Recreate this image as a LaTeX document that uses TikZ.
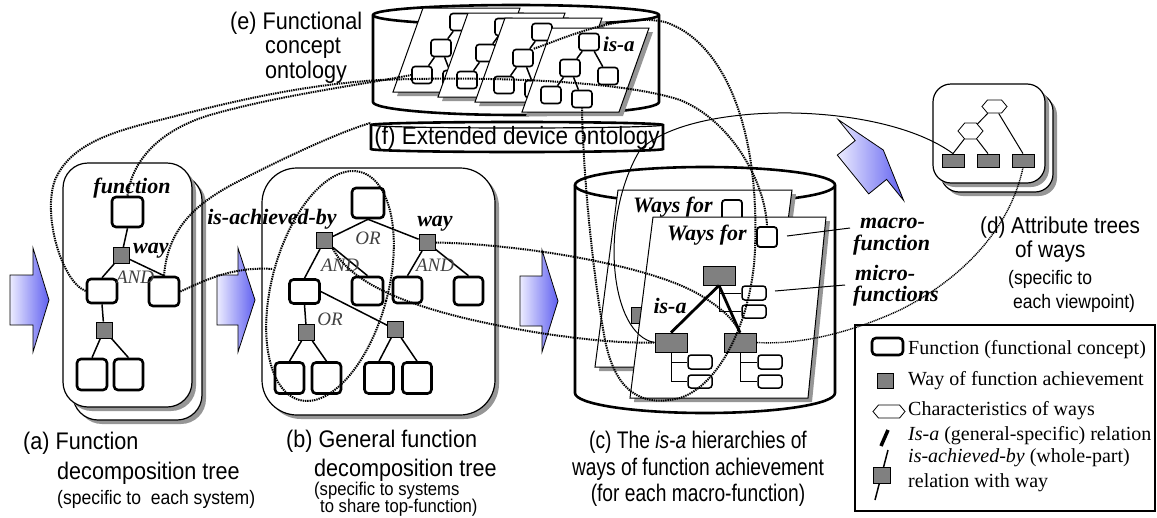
\documentclass[tikz,border=0pt]{standalone}
\usepackage{fontspec}
\setmainfont{Liberation Serif}
\newfontfamily\capfont[FakeStretch=0.9]{Liberation Sans}
\newfontfamily\capnarrow[FakeStretch=0.8]{Liberation Sans}
\usetikzlibrary{shapes.symbols,shadows}

\definecolor{waygray}{RGB}{128,128,128}
\definecolor{shadowgray}{RGB}{150,150,150}
\definecolor{arrowlight}{RGB}{236,236,255}
\definecolor{arrowblue}{RGB}{96,96,240}

\begin{document}
\begin{tikzpicture}[
    x=1pt, y=-1pt,
    func/.style={draw, fill=white, rounded corners=4pt, line width=2.6pt, minimum width=30pt, minimum height=28pt, inner sep=0pt},
    way/.style={draw, fill=waygray, line width=0.8pt, minimum width=16pt, minimum height=16pt, inner sep=0pt},
    branch/.style={line width=1.5pt},
    panel/.style={draw, fill=white, line width=1.2pt, inner sep=0pt},
    shadowed/.style={drop shadow={shadow xshift=4pt, shadow yshift=-4pt, fill=shadowgray, opacity=1}},
    cyl/.style={draw, fill=white, line width=2.6pt},
    sheet/.style={draw, fill=white, line width=1pt, shadowed},
    pagesq/.style={draw, fill=white, rounded corners=3pt, line width=1.6pt, minimum width=20pt, minimum height=17pt, inner sep=0pt},
    smallsq/.style={draw, fill=white, rounded corners=3pt, line width=1.5pt, minimum width=24pt, minimum height=14pt, inner sep=0pt},
    hexa/.style={signal, signal to=east and west, signal pointer angle=100, draw, fill=white, line width=0.8pt, minimum width=25pt, minimum height=14pt, inner sep=0pt},
    emlabel/.style={font=\fontsize{22}{24}\selectfont\bfseries\itshape, inner sep=0pt},
    gatelabel/.style={font=\fontsize{19}{21}\selectfont\itshape, text=black!75, inner sep=0pt, anchor=base},
    captext/.style={font=\capfont\fontsize{24}{26}\selectfont, inner sep=0pt, anchor=base west},
    capsmall/.style={font=\capfont\fontsize{19.5}{22}\selectfont, inner sep=0pt, anchor=base west},
    capc/.style={font=\capnarrow\fontsize{24}{26}\selectfont, inner sep=0pt, anchor=base},
    legtext/.style={font=\fontsize{20}{22}\selectfont, inner sep=0pt, anchor=base west},
    bigarrow/.style={draw, line width=0.8pt, left color=arrowlight, right color=arrowblue},
    dotline/.style={line width=2pt, dash pattern=on 1.4pt off 0.9pt},
    dotthin/.style={line width=1.4pt, dash pattern=on 1.1pt off 0.8pt},
    thinline/.style={line width=1pt}
]
\useasboundingbox (0,0) rectangle (1157,517);

% (e) Functional concept ontology
\filldraw[cyl] (373,15) -- (373,102) arc[start angle=180, end angle=360, x radius=143pt, y radius=13pt] -- (659,15) arc[start angle=0, end angle=180, x radius=143pt, y radius=10pt] -- cycle;
\draw[cyl] (659,15) arc[start angle=0, end angle=-180, x radius=143pt, y radius=10pt];

\filldraw[sheet] (423,8) -- ++(97,0) -- ++(-30,84) -- ++(-97,0) -- cycle;
\node[pagesq] (p1a) at (460,22) {};
\node[pagesq] (p1b) at (441,48) {};
\node[pagesq] (p1c) at (479,56) {};
\node[pagesq] (p1d) at (422,75) {};
\node[pagesq] (p1e) at (453,79) {};
\draw[branch] (p1a) -- (p1b);
\draw[branch] (p1a) -- (p1c);
\draw[branch] (p1b) -- (p1d);
\draw[branch] (p1b) -- (p1e);

\filldraw[sheet] (468,13) -- ++(97,0) -- ++(-30,84) -- ++(-97,0) -- cycle;
\node[pagesq] (p2a) at (505,27) {};
\node[pagesq] (p2b) at (486,53) {};
\node[pagesq] (p2c) at (524,61) {};
\node[pagesq] (p2d) at (467,80) {};
\node[pagesq] (p2e) at (498,84) {};
\draw[branch] (p2a) -- (p2b);
\draw[branch] (p2a) -- (p2c);
\draw[branch] (p2b) -- (p2d);
\draw[branch] (p2b) -- (p2e);

\filldraw[sheet] (505,18) -- ++(97,0) -- ++(-30,84) -- ++(-97,0) -- cycle;
\node[pagesq] (p3a) at (542,32) {};
\node[pagesq] (p3b) at (523,58) {};
\node[pagesq] (p3c) at (561,66) {};
\node[pagesq] (p3d) at (504,85) {};
\node[pagesq] (p3e) at (535,89) {};
\draw[branch] (p3a) -- (p3b);
\draw[branch] (p3a) -- (p3c);
\draw[branch] (p3b) -- (p3d);
\draw[branch] (p3b) -- (p3e);

\filldraw[sheet] (552,28) -- ++(97,0) -- ++(-30,84) -- ++(-97,0) -- cycle;
\node[pagesq] (p4a) at (589,42) {};
\node[pagesq] (p4b) at (570,68) {};
\node[pagesq] (p4c) at (608,76) {};
\node[pagesq] (p4d) at (551,95) {};
\node[pagesq] (p4e) at (582,99) {};
\draw[branch] (p4a) -- (p4b);
\draw[branch] (p4a) -- (p4c);
\draw[branch] (p4b) -- (p4d);
\draw[branch] (p4b) -- (p4e);
\node[emlabel, font=\fontsize{21}{23}\selectfont\bfseries\itshape, anchor=base west] (isae) at (603,51) {is-a};

% (f) Extended device ontology
\filldraw[cyl] (371,125) -- (371,149) arc[start angle=180, end angle=360, x radius=146pt, y radius=3pt] -- (663,125) arc[start angle=0, end angle=180, x radius=146pt, y radius=3pt] -- cycle;
\draw[line width=1.2pt] (663,125) arc[start angle=0, end angle=-180, x radius=146pt, y radius=3pt];
\node[font=\capfont\fontsize{25}{27}\selectfont, inner sep=0pt, minimum width=292pt, minimum height=30pt] (fbox) at (517,138) {(f) Extended device ontology};

% (a) Function decomposition tree
\node[panel, rounded corners=25pt, shadowed, minimum width=129pt, minimum height=245pt] (boxaback) at (137.5,297.5) {};
\node[panel, rounded corners=25pt, shadowed, minimum width=129pt, minimum height=244pt] (boxa) at (127.5,285) {};
\node[func, minimum width=31pt, minimum height=30pt] (a1) at (127.5,212) {};
\node[way] (aw1) at (121.5,255.5) {};
\node[func, minimum height=24pt] (a2) at (102,291) {};
\node[func, minimum height=29pt] (a3) at (164,291.5) {};
\node[way] (aw2) at (104,330) {};
\node[func, minimum height=31pt] (a4) at (92,374.5) {};
\node[func, minimum width=29pt, minimum height=31pt] (a5) at (128.5,374.5) {};
\draw[branch] (a1.south) -- (aw1);
\draw[branch] (aw1) -- (a2.north);
\draw[branch] (aw1) -- (a3.north);
\draw[branch] (a2.south) -- (aw2);
\draw[branch] (aw2) -- (a4.north);
\draw[branch] (aw2) -- (a5.north);
\node[emlabel, anchor=base] (lfunc) at (132,193) {function};
\node[emlabel, anchor=base west] (lwaya) at (133,253) {way};
\node[gatelabel] (landa) at (135,283) {AND};

% (b) General function decomposition tree
\node[panel, rounded corners=35pt, shadowed, minimum width=233pt, minimum height=247pt] (boxb) at (378.5,291.5) {};
\node[func, minimum width=32pt, minimum height=30pt] (b1) at (368,203) {};
\node[way] (bw1) at (324.5,240.5) {};
\node[way] (bw2) at (427,242.5) {};
\node[func, minimum height=24pt] (b2) at (304.5,291.5) {};
\node[func, minimum width=31pt] (b3) at (367.5,291) {};
\node[func, minimum width=29pt, minimum height=26pt] (b4) at (407.5,290) {};
\node[func, minimum width=29pt] (b5) at (468.5,291) {};
\node[way] (bw3) at (306.5,332.5) {};
\node[way] (bw4) at (395.5,329.5) {};
\node[func, minimum width=29pt, minimum height=31pt] (b6) at (289.5,378) {};
\node[func, minimum width=29pt, minimum height=31pt] (b7) at (326.5,378) {};
\node[func, minimum width=29pt, minimum height=31pt] (b8) at (379,378) {};
\node[func, minimum width=29pt, minimum height=31pt] (b9) at (417,378) {};
\draw[branch] (b1.south) -- (bw1);
\draw[branch] (b1.south) -- (bw2);
\draw[branch] (bw1) -- (b2.north);
\draw[branch] (bw1) -- (b3.north);
\draw[branch] (bw2) -- (b4.north);
\draw[branch] (bw2) -- (b5.north);
\draw[branch] (b2.south) -- (bw3);
\draw[branch] (b2.east) -- (bw4);
\draw[branch] (bw3) -- (b6.north);
\draw[branch] (bw3) -- (b7.north);
\draw[branch] (bw4) -- (b8.north);
\draw[branch] (bw4) -- (b9.north);
\node[emlabel, anchor=base] (lachieved) at (272,224) {is-achieved-by};
\node[emlabel, anchor=base] (lwayb) at (435,226) {way};
\node[gatelabel] (lorb1) at (368,244) {OR};
\node[gatelabel] (landb1) at (340,271) {AND};
\node[gatelabel] (landb2) at (435,271) {AND};
\node[gatelabel] (lorb2) at (330,325) {OR};
\draw[dotline, rotate around={-15:(330,286)}] (330,286) ellipse [x radius=58pt, y radius=118pt];
\coordinate (bell) at (273,269);

% (c) is-a hierarchies of ways
\filldraw[cyl] (575,185) -- (575,393) arc[start angle=180, end angle=360, x radius=130pt, y radius=20pt] -- (835,185) arc[start angle=0, end angle=180, x radius=130pt, y radius=18pt] -- cycle;
\draw[cyl] (835,185) arc[start angle=0, end angle=-180, x radius=130pt, y radius=18pt];
\filldraw[sheet] (618,190) -- (792,190) -- (769,367) -- (595,367) -- cycle;
\node[emlabel, anchor=base] (lwaysback) at (673,212) {Ways for};
\node[pagesq, minimum width=20pt, minimum height=20pt, line width=1.8pt] (cw1) at (732,210) {};
\node[way, minimum width=28pt] (cgb) at (645,315) {};
\filldraw[sheet] (653,217) -- (826,217) -- (808,398) -- (630,398) -- cycle;
\node[emlabel, anchor=base] (lwaysfront) at (707,240) {Ways for};
\node[pagesq, minimum width=20pt, minimum height=20pt, line width=1.8pt] (cm2) at (767,237) {};
\node[way, minimum width=32pt, minimum height=19pt] (cg1) at (719,275.5) {};
\node[way, minimum width=32pt, minimum height=19pt] (cg2) at (671,342.5) {};
\node[way, minimum width=32pt, minimum height=19pt] (cg3) at (740,342.5) {};
\node[smallsq] (cs1) at (754,293) {};
\node[smallsq, minimum height=13pt] (cs2) at (754,311.5) {};
\node[smallsq] (cs3) at (700,362) {};
\node[smallsq, minimum height=13pt] (cs4) at (700,381.5) {};
\node[smallsq] (cs5) at (770,362) {};
\node[smallsq, minimum height=13pt] (cs6) at (770,381.5) {};
\draw[thinline] (cg1.south) |- (cs2.west);
\draw[thinline] (cg1.south |- cs1.west) -- (cs1.west);
\draw[thinline] (cg2.south) |- (cs4.west);
\draw[thinline] (cg2.south |- cs3.west) -- (cs3.west);
\draw[thinline] (cg3.south) |- (cs6.west);
\draw[thinline] (cg3.south |- cs5.west) -- (cs5.west);
\draw[line width=2.8pt] (cg1.south) -- (cg2.north);
\draw[line width=2.8pt] (cg1.south) -- (cg3.north);
\node[emlabel, anchor=base] (lisac) at (670,313) {is-a};
\coordinate (macrotip) at (787,236);
\coordinate (microtip) at (775,291);
\node[emlabel, anchor=base west] (lmacro1) at (860,228) {macro-};
\node[emlabel, anchor=base west] (lmacro2) at (853,250) {function};
\node[emlabel, anchor=base west] (lmicro1) at (855,280) {micro-};
\node[emlabel, anchor=base west] (lmicro2) at (853,301) {functions};
\draw[thinline] (macrotip) -- ([xshift=-10pt]lmacro1.base west);
\draw[thinline] (microtip) -- ([xshift=-10pt, yshift=-5pt]lmicro1.base west);

% (d) Attribute trees of ways
\node[panel, rounded corners=18pt, shadowed, minimum width=112pt, minimum height=99pt] (boxdback) at (997,142.5) {};
\node[panel, rounded corners=18pt, shadowed, minimum width=112pt, minimum height=99pt] (boxd) at (989,133.5) {};
\node[hexa, minimum height=13pt] (dh1) at (994.5,106.5) {};
\node[hexa, minimum height=16pt] (dh2) at (970.5,131) {};
\node[way, minimum width=22pt, minimum height=13pt] (dg1) at (953,160.5) {};
\node[way, minimum width=22pt, minimum height=13pt] (dg2) at (988,160.5) {};
\node[way, minimum width=22pt, minimum height=13pt] (dg3) at (1023,160.5) {};
\draw[thinline] (dh1) -- (dh2);
\draw[thinline] (dh1) -- (dg3.north);
\draw[thinline] (dh2) -- (dg1.north);
\draw[thinline] (dh2) -- (dg2.north);

% Block arrows
\shade[bigarrow] (10,275) -- (33,275) -- (33,248) -- (49,300) -- (33,352) -- (33,325) -- (10,325) -- cycle;
\shade[bigarrow] (217,275) -- (238,275) -- (238,248) -- (255,300) -- (238,352) -- (238,325) -- (217,325) -- cycle;
\shade[bigarrow] (520,276) -- (542,276) -- (542,250) -- (558,301) -- (542,352) -- (542,326) -- (520,326) -- cycle;
\shade[bigarrow] (837.3,155.1) -- (855.2,140.6) -- (838.2,119.6) -- (883.3,150) -- (903.6,200.4) -- (886.6,179.4) -- (868.7,193.9) -- cycle;

% Captions
\node[captext] (cape1) at (230,29) {(e) Functional};
\node[captext] (cape2) at (265,53) {concept};
\node[captext] (cape3) at (265,78) {ontology};
\node[captext] (capa1) at (23,449) {(a) Function};
\node[captext] (capa2) at (57,479) {decomposition tree};
\node[capsmall] (capa3) at (57,504) {(specific to\ \ each system)};
\node[captext] (capb1) at (286,447) {(b) General function};
\node[captext] (capb2) at (314,476) {decomposition tree};
\node[capsmall, font=\capfont\fontsize{18.5}{20}\selectfont] (capb3) at (314,495) {(specific to systems};
\node[capsmall, font=\capfont\fontsize{18.5}{20}\selectfont] (capb4) at (320,512.5) {to share top-function)};
\node[capc] (capc1) at (698,448) {(c) The \textit{is-a} hierarchies of};
\node[capc] (capc2) at (698,475) {ways of function achievement};
\node[capc] (capc3) at (698,501) {(for each macro-function)};
\node[captext, font=\capfont\fontsize{23}{25}\selectfont] (capd1) at (980,233) {(d) Attribute trees};
\node[captext, font=\capfont\fontsize{23}{25}\selectfont] (capd2) at (1015,257) {of ways};
\node[capsmall] (capd3) at (1008,284) {(specific to};
\node[capsmall] (capd4) at (1008,308) {\ each viewpoint)};

% Legend
\node[draw, line width=1.2pt, minimum width=300pt, minimum height=186pt, inner sep=0pt] (legbox) at (1005,418) {};
\node[func, minimum width=31pt, minimum height=17pt] (legfunc) at (887.5,346.5) {};
\node[legtext] (legt1) at (908,354) {Function (functional concept)};
\node[way, minimum height=15pt] (legway) at (885,380.5) {};
\node[legtext] (legt2) at (908,385) {Way of function achievement};
\node[hexa, minimum width=32pt, minimum height=13pt] (leghex) at (889,411.5) {};
\node[legtext] (legt3) at (908,415) {Characteristics of ways};
\coordinate (isalo) at (881,446);
\coordinate (isahi) at (888,430);
\draw[line width=3.5pt] (isalo) -- (isahi);
\node[legtext] (legt4) at (908,440) {\textit{Is-a} (general-specific) relation};
\coordinate (achlo) at (875,500);
\coordinate (achhi) at (888,450);
\draw[line width=1.5pt] (achlo) -- (achhi);
\node[way, minimum width=17pt] (legway2) at (881.5,475) {};
\node[legtext] (legt5) at (908,462) {\textit{is-achieved-by} (whole-part)};
\node[legtext] (legt6) at (908,487) {relation with way};

% Correspondence links
\draw[dotline] (a1.north) .. controls (132,160) and (160,130) .. (210,115) .. controls (280,95) and (360,85) .. (p1d.west);
\draw[dotline] (a2.west) .. controls (62,282) and (42,215) .. (55,180) .. controls (70,145) and (110,132) .. (160,120) .. controls (230,102) and (300,85) .. (380,80) .. controls (480,76) and (620,80) .. (680,100) .. controls (730,120) and (765,180) .. (cm2.north);
\draw[dotline] (a3.north) .. controls (168,225) and (200,200) .. (245,178) .. controls (290,155) and (340,132) .. (fbox.north west);
\draw[dotline] (a3.east) .. controls (200,283) and (230,266) .. (bell);
\draw[dotline] (bw1.south east) .. controls (355,290) and (430,315) .. (540,333) .. controls (600,342) and (630,343) .. (cg2.west);
\draw[dotline] (bw2.east) .. controls (520,244) and (650,265) .. (700,295) .. controls (725,310) and (735,322) .. (cg3.north);
\draw[dotline] (p3b.north east) .. controls (560,40) and (620,12) .. (665,22) .. controls (720,40) and (760,120) .. (755,250) .. controls (752,320) and (720,385) .. (680,398) .. controls (640,408) and (615,390) .. (605,340) .. controls (592,270) and (583,170) .. (p4e.south);
\draw[thinline] (cg2.west) .. controls (610,335) and (598,220) .. (640,150) .. controls (690,100) and (880,100) .. (dg1.north);
\draw[dotthin] (dg3.south) .. controls (1010,230) and (960,280) .. (900,310) .. controls (850,333) and (800,345) .. (cg3.east);

\end{tikzpicture}
\end{document}
